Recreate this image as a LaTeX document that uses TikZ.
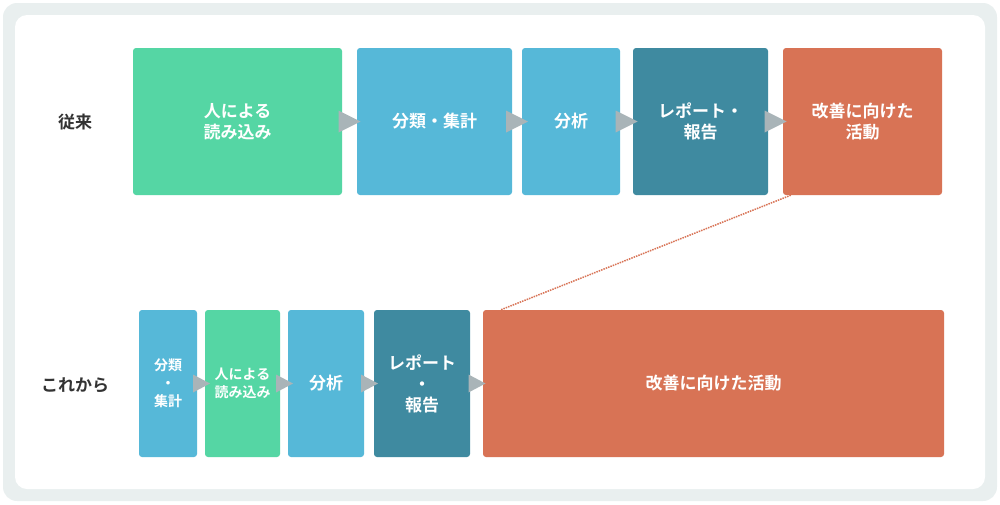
\documentclass[tikz,border=0pt]{standalone}
\usepackage{fontspec}
\usetikzlibrary{calc}
\setmainfont{Noto Sans CJK JP}[BoldFont={Noto Sans CJK JP Bold}]
\begin{document}
\begin{tikzpicture}[x=1pt,y=-1pt,
  box/.style={draw=none,rounded corners=3pt,text=white,font=\bfseries\fontsize{17}{21}\selectfont,align=center,inner sep=0pt},
  sbox/.style={box,font=\bfseries\fontsize{14}{18}\selectfont},
  tri/.style={fill=arrowgrey,draw=none},
  lab/.style={font=\bfseries\fontsize{17}{21}\selectfont,text=labtext}]
\definecolor{bgout}{HTML}{E9EFEF}
\definecolor{cgreen}{HTML}{55D6A4}
\definecolor{cblue}{HTML}{56B8D8}
\definecolor{cteal}{HTML}{3F8AA0}
\definecolor{corange}{HTML}{D87355}
\definecolor{arrowgrey}{HTML}{A9B4B8}
\definecolor{labtext}{HTML}{333333}
\useasboundingbox (0,0) rectangle (1000,504);
\fill[bgout,rounded corners=14pt] (3,3) rectangle (997,501);
\fill[white,rounded corners=12pt] (15,15) rectangle (985,489);
% top row
\node[box,fill=cgreen,minimum width=209,minimum height=147] (t1) at (237.5,121.5) {人による\\読み込み};
\node[box,fill=cblue,minimum width=155,minimum height=147] (t2) at (434.5,121.5) {分類・集計};
\node[box,fill=cblue,minimum width=98,minimum height=147] (t3) at (571,121.5) {分析};
\node[box,fill=cteal,minimum width=135,minimum height=147] (t4) at (700.5,121.5) {レポート・\\報告};
\node[box,fill=corange,minimum width=159,minimum height=147] (t5) at (862.5,121.5) {改善に向けた\\活動};
\foreach \a/\b in {t1/t2,t2/t3,t3/t4,t4/t5}{
  \coordinate (m) at ($(\a.east)!0.5!(\b.west)$);
  \fill[tri] ([xshift=-11pt,yshift=-11pt]m) -- ([xshift=11pt]m) -- ([xshift=-11pt,yshift=11pt]m) -- cycle;}
% bottom row
\node[sbox,fill=cblue,minimum width=58,minimum height=147] (b1) at (168,383.5) {分類\\・\\集計};
\node[sbox,fill=cgreen,minimum width=75,minimum height=147] (b2) at (242.5,383.5) {人による\\読み込み};
\node[sbox,fill=cblue,minimum width=76,minimum height=147] (b3) at (326,383.5) {\fontsize{17}{21}\selectfont 分析};
\node[box,fill=cteal,minimum width=96,minimum height=147] (b4) at (422,383.5) {レポート\\・\\報告};
\node[box,fill=corange,minimum width=461,minimum height=147] (b5) at (713.5,383.5) {改善に向けた活動};
\foreach \a/\b in {b1/b2,b2/b3,b3/b4,b4/b5}{
  \coordinate (m) at ($(\a.east)!0.5!(\b.west)$);
  \fill[tri] ([xshift=-8pt,yshift=-9pt]m) -- ([xshift=9pt]m) -- ([xshift=-8pt,yshift=9pt]m) -- cycle;}
\draw[corange,densely dotted,line width=1.5pt] ([xshift=8pt]t5.south west) -- ([xshift=18pt]b5.north west);
\node[lab] (l1) at (75,122) {従来};
\node[lab] (l2) at (75,385) {これから};
\end{tikzpicture}
\end{document}
